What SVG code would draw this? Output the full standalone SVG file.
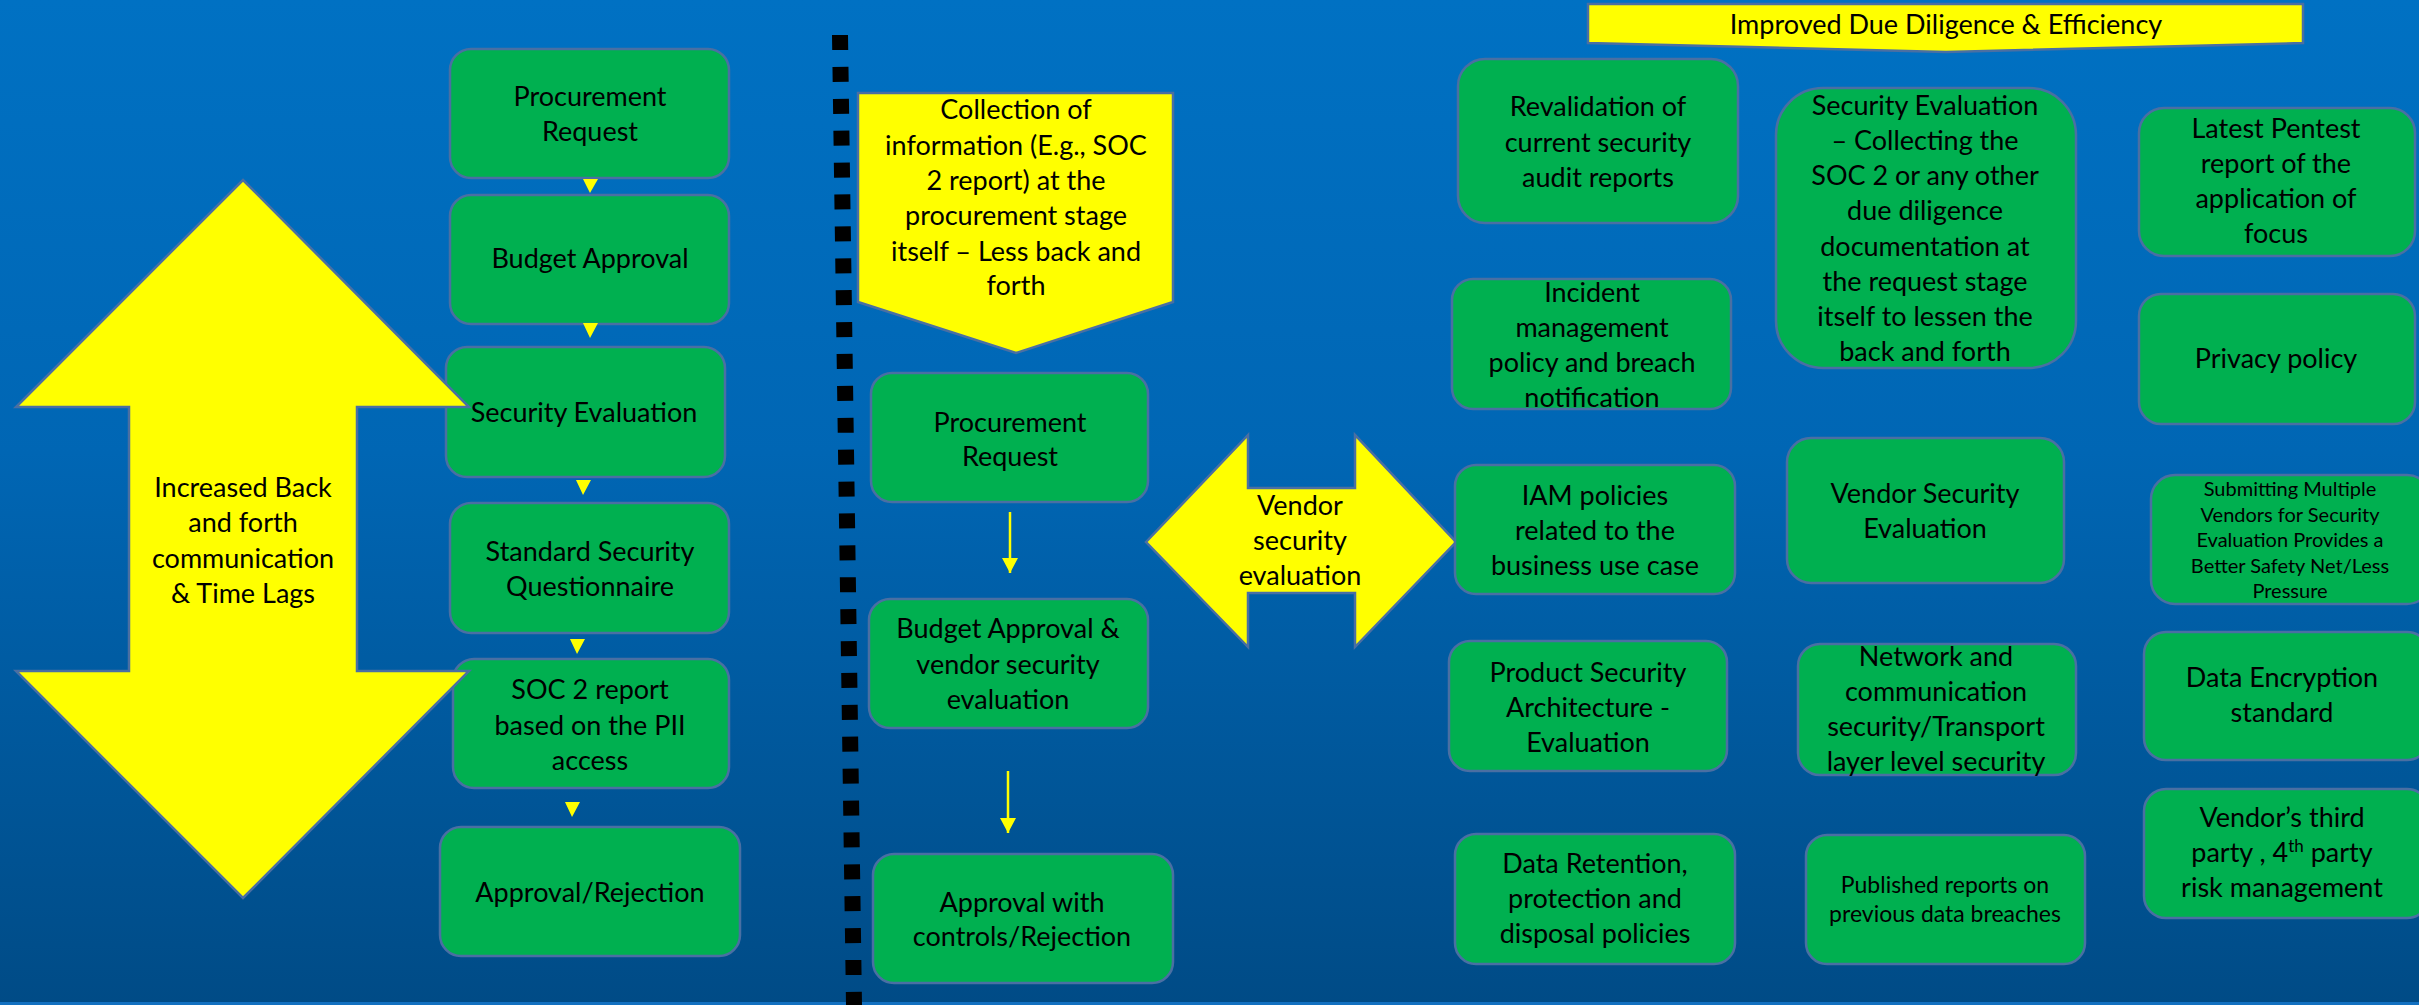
<svg xmlns="http://www.w3.org/2000/svg" width="2419" height="1005" viewBox="0 0 2419 1005">
<defs>
<linearGradient id="bg" x1="0" y1="0" x2="0" y2="1">
<stop offset="0" stop-color="#0071C3"/>
<stop offset="0.45" stop-color="#0066B4"/>
<stop offset="1" stop-color="#004B86"/>
</linearGradient>
<marker id="ah" viewBox="0 0 15 16" refX="15" refY="8" markerWidth="15" markerHeight="16" markerUnits="userSpaceOnUse" orient="auto">
<path d="M0,0 L15,8 L0,16 Z" fill="#FFFF00"/>
</marker>
<style>
.box{fill:#00B050;stroke:#4A6FA3;stroke-width:2.5}
.yel{fill:#FFFF00;stroke:#4A6FA3;stroke-width:2.5}
.t{font-family:Lato,"Liberation Sans",sans-serif;font-size:27px;fill:#000;text-anchor:middle}
.s{font-size:23px}
.xs{font-size:20px}
.tri{fill:#FFFF00}
.conn{stroke:#FFFF00;stroke-width:2.5;fill:none}
</style>
</defs>
<rect x="0" y="0" width="2419" height="1005" fill="url(#bg)"/>
<rect x="0" y="1002" width="2419" height="3" fill="#1270C0"/>

<!-- dotted divider -->
<line x1="840" y1="35" x2="854" y2="1005" stroke="#000" stroke-width="16" stroke-dasharray="15 16.9"/>

<!-- left column boxes -->
<g id="l1"><rect class="box" x="450" y="49" width="279" height="129" rx="21"/><text class="t" x="590" y="106">Procurement</text><text class="t" x="590" y="141">Request</text></g>
<g id="l2"><rect class="box" x="450" y="195" width="279" height="129" rx="21"/><text class="t" x="590" y="268">Budget Approval</text></g>
<g id="l3"><rect class="box" x="446" y="347" width="279" height="130" rx="21"/><text class="t" x="584" y="422">Security Evaluation</text></g>
<g id="l4"><rect class="box" x="450" y="503" width="279" height="130" rx="21"/><text class="t" x="590" y="561">Standard Security</text><text class="t" x="590" y="596">Questionnaire</text></g>
<g id="l5"><rect class="box" x="453" y="659" width="276" height="129" rx="21"/><text class="t" x="590" y="699">SOC 2 report</text><text class="t" x="590" y="735">based on the PII</text><text class="t" x="590" y="770">access</text></g>
<g id="l6"><rect class="box" x="440" y="827" width="300" height="129" rx="21"/><text class="t" x="590" y="902">Approval/Rejection</text></g>

<!-- left big double arrow -->
<g id="backforth">
<polygon class="yel" points="243,180 469,407 357,407 357,671 469,671 243,898 16,671 129,671 129,407 16,407"/>
<text class="t" x="243" y="497">Increased Back</text>
<text class="t" x="243" y="532">and forth</text>
<text class="t" x="243" y="568">communication</text>
<text class="t" x="243" y="603">&amp; Time Lags</text>
</g>

<!-- middle -->
<g id="collection">
<polygon class="yel" points="858,93 1173,93 1173,302 1016,353 858,302"/>
<text class="t" x="1016" y="119">Collection of</text>
<text class="t" x="1016" y="155">information (E.g., SOC</text>
<text class="t" x="1016" y="190">2 report) at the</text>
<text class="t" x="1016" y="225">procurement stage</text>
<text class="t" x="1016" y="261">itself – Less back and</text>
<text class="t" x="1016" y="295">forth</text>
</g>
<g id="m1"><rect class="box" x="871" y="373" width="277" height="129" rx="21"/><text class="t" x="1010" y="432">Procurement</text><text class="t" x="1010" y="466">Request</text></g>
<g id="m2"><rect class="box" x="869" y="599" width="279" height="129" rx="21"/><text class="t" x="1008" y="638">Budget Approval &amp;</text><text class="t" x="1008" y="674">vendor security</text><text class="t" x="1008" y="709">evaluation</text></g>
<g id="m3"><rect class="box" x="873" y="854" width="300" height="129" rx="21"/><text class="t" x="1022" y="912">Approval with</text><text class="t" x="1022" y="946">controls/Rejection</text></g>

<g id="vendor">
<polygon class="yel" points="1146,542 1248,435 1248,488 1355,488 1355,435 1456,542 1355,647 1355,593 1248,593 1248,647"/>
<text class="t" x="1300" y="515">Vendor</text>
<text class="t" x="1300" y="550">security</text>
<text class="t" x="1300" y="585">evaluation</text>
</g>

<g id="banner">
<polygon class="yel" points="1588,4 2303,4 2303,43 1946,52 1588,43"/>
<text class="t" x="1946" y="34">Improved Due Diligence &amp; Efficiency</text>
</g>

<!-- right grid -->
<g id="r1"><rect class="box" x="1458" y="59" width="280" height="164" rx="27"/><text class="t" x="1598" y="116">Revalidation of</text><text class="t" x="1598" y="152">current security</text><text class="t" x="1598" y="187">audit reports</text></g>
<g id="r2"><rect class="box" x="1452" y="279" width="279" height="130" rx="21"/><text class="t" x="1592" y="302">Incident</text><text class="t" x="1592" y="337">management</text><text class="t" x="1592" y="372">policy and breach</text><text class="t" x="1592" y="407">notification</text></g>
<g id="r3"><rect class="box" x="1455" y="465" width="280" height="129" rx="21"/><text class="t" x="1595" y="505">IAM policies</text><text class="t" x="1595" y="540">related to the</text><text class="t" x="1595" y="575">business use case</text></g>
<g id="r4"><rect class="box" x="1449" y="641" width="278" height="130" rx="21"/><text class="t" x="1588" y="682">Product Security</text><text class="t" x="1588" y="717">Architecture -</text><text class="t" x="1588" y="752">Evaluation</text></g>
<g id="r5"><rect class="box" x="1455" y="834" width="280" height="130" rx="21"/><text class="t" x="1595" y="873">Data Retention,</text><text class="t" x="1595" y="908">protection and</text><text class="t" x="1595" y="943">disposal policies</text></g>

<g id="c1"><rect class="box" x="1776" y="88" width="300" height="280" rx="47"/><text class="t" x="1925" y="115">Security Evaluation</text><text class="t" x="1925" y="150">– Collecting the</text><text class="t" x="1925" y="185">SOC 2 or any other</text><text class="t" x="1925" y="220">due diligence</text><text class="t" x="1925" y="256">documentation at</text><text class="t" x="1925" y="291">the request stage</text><text class="t" x="1925" y="326">itself to lessen the</text><text class="t" x="1925" y="361">back and forth</text></g>
<g id="c2"><rect class="box" x="1787" y="438" width="277" height="145" rx="24"/><text class="t" x="1925" y="503">Vendor Security</text><text class="t" x="1925" y="538">Evaluation</text></g>
<g id="c3"><rect class="box" x="1798" y="644" width="278" height="131" rx="22"/><text class="t" x="1936" y="666">Network and</text><text class="t" x="1936" y="701">communication</text><text class="t" x="1936" y="736">security/Transport</text><text class="t" x="1936" y="771">layer level security</text></g>
<g id="c4"><rect class="box" x="1806" y="835" width="279" height="129" rx="21"/><text class="t s" x="1945" y="893">Published reports on</text><text class="t s" x="1945" y="922">previous data breaches</text></g>

<g id="p1"><rect class="box" x="2139" y="108" width="276" height="148" rx="25"/><text class="t" x="2276" y="138">Latest Pentest</text><text class="t" x="2276" y="173">report of the</text><text class="t" x="2276" y="208">application of</text><text class="t" x="2276" y="243">focus</text></g>
<g id="p2"><rect class="box" x="2139" y="294" width="276" height="130" rx="22"/><text class="t" x="2276" y="368">Privacy policy</text></g>
<g id="p3"><rect class="box" x="2151" y="475" width="280" height="129" rx="24"/><text class="t xs" x="2290" y="496">Submitting Multiple</text><text class="t xs" x="2290" y="522">Vendors for Security</text><text class="t xs" x="2290" y="547">Evaluation Provides a</text><text class="t xs" x="2290" y="573">Better Safety Net/Less</text><text class="t xs" x="2290" y="598">Pressure</text></g>
<g id="p4"><rect class="box" x="2144" y="632" width="285" height="128" rx="22"/><text class="t" x="2282" y="687">Data Encryption</text><text class="t" x="2282" y="722">standard</text></g>
<g id="p5"><rect class="box" x="2144" y="789" width="285" height="129" rx="22"/><text class="t" x="2282" y="827">Vendor’s third</text><text class="t" x="2282" y="862">party , 4<tspan font-size="17" dy="-10">th</tspan><tspan dy="10"> party</tspan></text><text class="t" x="2282" y="897">risk management</text></g>

<!-- connectors -->
<g id="connectors">
<polygon class="tri" points="583,179 598,179 590,193"/>
<polygon class="tri" points="583,323 598,323 590,338"/>
<polygon class="tri" points="576,480 591,480 583,495"/>
<polygon class="tri" points="570,639 585,639 577,654"/>
<polygon class="tri" points="565,802 580,802 572,817"/>
<line class="conn" x1="1010" y1="512" x2="1010" y2="573" marker-end="url(#ah)"/>
<line class="conn" x1="1008" y1="771" x2="1008" y2="833" marker-end="url(#ah)"/>
</g>
</svg>
